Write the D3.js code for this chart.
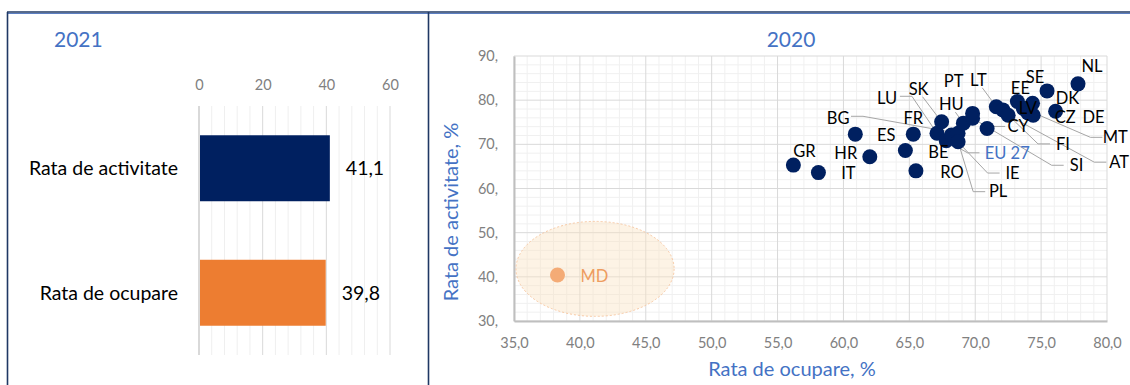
<!DOCTYPE html>
<html><head><meta charset="utf-8">
<script src="https://cdn.jsdelivr.net/npm/d3@7"></script>
<style>
html,body{margin:0;padding:0;background:#fff;}
svg{display:block;font-family:Lato,"Open Sans",sans-serif;}
</style></head><body>
<svg id="chart" width="1130" height="385"></svg>
<script>
// ---- 2021 bar panel data ----
const barCategories = ["Rata de activitate", "Rata de ocupare"];
const barValues = [41.1, 39.8];
const barTicks = [0, 20, 40, 60];

// ---- 2020 scatter data (employment rate on x, activity rate on y) ----
const countries  = ["GR","IT","HR","ES","BE","FR","RO","LU","SK","EU 27","IE","BG","PL","HU","PT","SI","CY","LT","FI","AT","EE","MT","LV","DK","CZ","DE","SE","NL"];
const employment = [56.2, 58.1, 62.0, 60.9, 64.7, 65.3, 65.5, 67.1, 67.45, 67.8, 68.2, 68.7, 68.7, 69.1, 69.8, 69.8, 70.9, 71.6, 72.1, 72.5, 73.2, 73.65, 74.0, 74.35, 74.4, 76.1, 75.45, 77.8];
const activity   = [65.3, 63.6, 67.2, 72.3, 68.6, 72.3, 64.0, 72.5, 75.1, 70.8, 72.1, 72.5, 70.6, 74.8, 77.0, 75.9, 73.6, 78.5, 77.8, 76.6, 79.7, 78.15, 77.1, 79.3, 76.6, 77.5, 82.1, 83.7];
const mdName = "MD";
const mdEmployment = 38.3;
const mdActivity = 40.4;
const xTicks = [35, 40, 45, 50, 55, 60, 65, 70, 75, 80];
const yTicks = [30, 40, 50, 60, 70, 80, 90];

// highlighted region round MD, in axis units
const mdZone = {cx: 41.15, cy: 41.8, rx: 6.0, ry: 10.75};

// label placement relative to each point (px), and whether a leader line is drawn
const labelLayout = {
  "GR":[11,-14], "IT":[30,1], "HR":[-24,-3], "ES":[31,1], "BE":[33,2], "FR":[0,-16], "RO":[36,1],
  "LU":[-50,-35,"L"], "SK":[-23,-33,"B"], "EU 27":[61,12,"R"], "IE":[61,38,"R"], "BG":[-120,-15,"L"],
  "PL":[40,50,"R"], "HU":[-12,-19,"B"], "PT":[-19,-32], "SI":[104,47,"R"], "CY":[31,-2,"R"],
  "LT":[-18,-27,"B"], "FI":[60,34,"R"], "AT":[111,47,"R"], "EE":[3,-13], "MT":[92,29,"R"],
  "LV":[0,-5], "DK":[35,-5], "CZ":[32,2], "DE":[38,6], "SE":[-12,-14], "NL":[14,-18], "MD":[37,1]
};

const svg = d3.select("#chart");
const navy = "#002060", orange = "#ED7D31", blue = "#4472C4";

// ---- frame ----
svg.append("line").attr("x1",7).attr("x2",1130).attr("y1",12).attr("y2",12).attr("stroke","#1F3864").attr("stroke-width",1.6);
svg.append("line").attr("x1",7).attr("x2",1130).attr("y1",13.5).attr("y2",13.5).attr("stroke","#5B7EC2").attr("stroke-width",1);
svg.append("line").attr("x1",7.5).attr("x2",7.5).attr("y1",12).attr("y2",385).attr("stroke","#1F3864").attr("stroke-width",1.6);
svg.append("line").attr("x1",428.5).attr("x2",428.5).attr("y1",12).attr("y2",385).attr("stroke","#1F3864").attr("stroke-width",1.6);

// ================= 2021 bar panel =================
const bx = d3.scaleLinear().domain([0,60]).range([199,390]);
const by = d3.scaleBand().domain(barCategories).range([106,355]).paddingInner(0.47).paddingOuter(0.235);
const left = svg.append("g");

left.append("text").attr("x",54).attr("y",47).attr("fill",blue).attr("font-size",21).text("2021");

// vertical grid
left.append("g").selectAll("line").data(d3.range(0,61,4)).join("line")
  .attr("x1",d=>bx(d)).attr("x2",d=>bx(d)).attr("y1",106).attr("y2",355)
  .attr("stroke",d=>d%20===0?"#D9D9D9":"#EFEFEF").attr("stroke-width",d=>d===0?2:1);

left.append("g").attr("transform","translate(0,90)")
  .call(d3.axisTop(bx).tickValues(barTicks).tickSize(0).tickPadding(0).tickFormat(d3.format("d")))
  .call(g=>g.select(".domain").remove())
  .call(g=>g.selectAll("text").attr("fill","#808080").attr("font-size",14.5).attr("font-family","Lato").attr("dy",0));

left.append("g").selectAll("rect").data(barValues).join("rect")
  .attr("x",bx(0)+1).attr("y",(d,i)=>by(barCategories[i]))
  .attr("width",d=>bx(d)-bx(0)-1).attr("height",by.bandwidth())
  .attr("fill",(d,i)=>i===0?navy:orange);

left.append("g").selectAll("text").data(barCategories).join("text")
  .attr("x",178).attr("y",d=>by(d)+by.bandwidth()/2).attr("dy","0.35em")
  .attr("text-anchor","end").attr("font-size",19.5).attr("fill","#000").text(d=>d);

left.append("g").selectAll("text").data(barValues).join("text")
  .attr("x",d=>bx(d)+16).attr("y",(d,i)=>by(barCategories[i])+by.bandwidth()/2).attr("dy","0.35em")
  .attr("font-size",19.5).attr("fill","#000").text(d=>d3.format(".1f")(d).replace(".",","));

// ================= 2020 scatter panel =================
const sx = d3.scaleLinear().domain([35,80]).range([514,1107]);
const sy = d3.scaleLinear().domain([30,90]).range([321,56]);
const right = svg.append("g");

right.append("text").attr("x",791).attr("y",47).attr("text-anchor","middle").attr("fill",blue).attr("font-size",21).text("2020");

// grid: minor then major
const gx = d3.range(35,80.1,1), gy = d3.range(30,90.1,2);
right.append("g").selectAll("line").data(gx.filter(d=>d%5!==0)).join("line")
  .attr("x1",d=>sx(d)).attr("x2",d=>sx(d)).attr("y1",sy(90)).attr("y2",sy(30)).attr("stroke","#F0F0F0");
right.append("g").selectAll("line").data(gy.filter(d=>d%10!==0)).join("line")
  .attr("y1",d=>sy(d)).attr("y2",d=>sy(d)).attr("x1",sx(35)).attr("x2",sx(80)).attr("stroke","#F0F0F0");
right.append("g").selectAll("line").data(xTicks).join("line")
  .attr("x1",d=>sx(d)).attr("x2",d=>sx(d)).attr("y1",sy(90)).attr("y2",sy(30)).attr("stroke","#D9D9D9");
right.append("g").selectAll("line").data(yTicks).join("line")
  .attr("y1",d=>sy(d)).attr("y2",d=>sy(d)).attr("x1",sx(35)).attr("x2",sx(80)).attr("stroke","#D9D9D9");

// axes
right.append("g").attr("transform",`translate(0,${sy(30)})`)
  .call(d3.axisBottom(sx).tickValues(xTicks).tickSize(0).tickPadding(17).tickFormat(d=>d3.format(".1f")(d).replace(".",",")))
  .call(g=>g.select(".domain").attr("stroke","#BFBFBF").attr("stroke-width",2))
  .call(g=>g.selectAll("text").attr("fill","#808080").attr("font-size",14.5).attr("font-family","Lato"));
right.append("g").attr("transform",`translate(${sx(35)},0)`)
  .call(d3.axisLeft(sy).tickValues(yTicks).tickSize(0).tickPadding(16).tickFormat(d=>d+","))
  .call(g=>g.select(".domain").attr("stroke","#BFBFBF").attr("stroke-width",2))
  .call(g=>g.selectAll("text").attr("fill","#808080").attr("font-size",14.5).attr("font-family","Lato"));

right.append("text").attr("x",792).attr("y",376).attr("text-anchor","middle").attr("fill",blue).attr("font-size",20).text("Rata de ocupare, %");
right.append("text").attr("transform","translate(458,212) rotate(-90)").attr("text-anchor","middle").attr("fill",blue).attr("font-size",20).text("Rata de activitate, %");

// highlighted MD zone
right.append("ellipse")
  .attr("cx",sx(mdZone.cx)).attr("cy",sy(mdZone.cy))
  .attr("rx",sx(mdZone.cx+mdZone.rx)-sx(mdZone.cx)).attr("ry",sy(mdZone.cy)-sy(mdZone.cy+mdZone.ry))
  .attr("fill","#FBE3C2").attr("fill-opacity",0.42)
  .attr("stroke","#F8C9A4").attr("stroke-width",1).attr("stroke-dasharray","2,2");

const pts = countries.map((c,i)=>({name:c, x:sx(employment[i]), y:sy(activity[i])}));
const labelFont = 16.5;
const approxWidth = s => s.length*labelFont*0.6;

// leader lines
const leaders = right.append("g").attr("fill","none").attr("stroke","#A6A6A6").attr("stroke-width",1);
pts.forEach(p=>{
  const [dx,dy,mode] = labelLayout[p.name];
  if(!mode) return;
  const lx = p.x+dx, ly = p.y+dy, hw = approxWidth(p.name)/2;
  const path = d3.path();
  if(mode==="R"){ const s0 = lx-hw-3; path.moveTo(s0,ly); path.lineTo(s0-12,ly); path.lineTo(p.x,p.y); }
  else if(mode==="L"){ const s0 = lx+hw+3; path.moveTo(s0,ly-2); path.lineTo(s0+12,ly-2); path.lineTo(p.x,p.y); }
  else { path.moveTo(lx+4,ly+8); path.lineTo(p.x,p.y); }
  leaders.append("path").attr("d",path.toString());
});

// points
right.append("g").selectAll("circle").data(pts).join("circle")
  .attr("cx",d=>d.x).attr("cy",d=>d.y).attr("r",7.5).attr("fill",navy);
right.append("circle").attr("cx",sx(mdEmployment)).attr("cy",sy(mdActivity)).attr("r",7.5).attr("fill","#F4AB76");

// labels
right.append("g").selectAll("text").data(pts).join("text")
  .attr("x",d=>d.x+labelLayout[d.name][0]).attr("y",d=>d.y+labelLayout[d.name][1]).attr("dy","0.35em")
  .attr("text-anchor","middle").attr("font-size",labelFont)
  .attr("fill",d=>d.name==="EU 27"?blue:"#000").text(d=>d.name);
right.append("text")
  .attr("x",sx(mdEmployment)+labelLayout[mdName][0]).attr("y",sy(mdActivity)+labelLayout[mdName][1]).attr("dy","0.35em")
  .attr("text-anchor","middle").attr("font-size",labelFont).attr("fill","#EE9C60").text(mdName);
</script>
</body></html>
